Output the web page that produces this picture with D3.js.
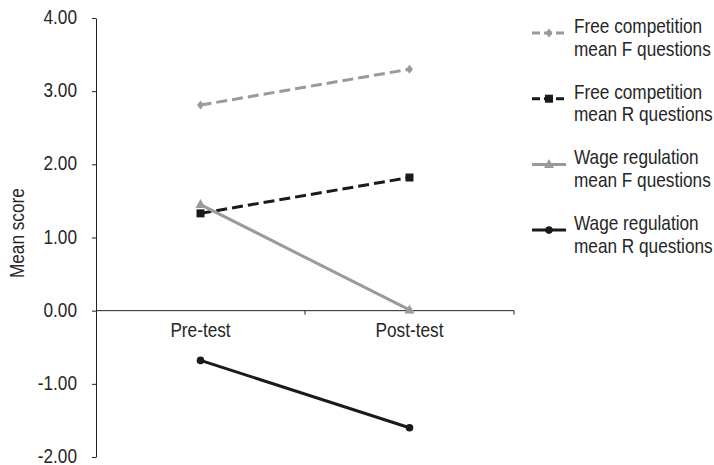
<!DOCTYPE html>
<html>
<head>
<meta charset="utf-8">
<script src="https://cdn.jsdelivr.net/npm/d3@7/dist/d3.min.js"></script>
<style>
html,body{margin:0;padding:0;background:#fff;}
text{font-family:"Liberation Sans Narrow","Arial Narrow","Liberation Sans",Arial,sans-serif;}
</style>
</head>
<body>
<svg id="chart" width="714" height="465"></svg>
<script>
const categories = ["Pre-test", "Post-test"];
const yTicks = [-2, -1, 0, 1, 2, 3, 4];
const freeCompF = [2.81, 3.30];
const freeCompR = [1.33, 1.82];
const wageRegF = [1.45, 0.01];
const wageRegR = [-0.68, -1.60];
const seriesNames = [
  ["Free competition", "mean F questions"],
  ["Free competition", "mean R questions"],
  ["Wage regulation", "mean F questions"],
  ["Wage regulation", "mean R questions"]
];

const series = [
  {values: freeCompF, color: "#9a9a9a", dash: "11,5", marker: "diamond"},
  {values: freeCompR, color: "#1a1a1a", dash: "11,5", marker: "square"},
  {values: wageRegF, color: "#9a9a9a", dash: null, marker: "triangle"},
  {values: wageRegR, color: "#1a1a1a", dash: null, marker: "circle"}
];

const SX = 0.82; // horizontal condensing to mimic a narrow font
const FS = 21;
const TXT = "#262626";

const svg = d3.select("#chart");
const x = d3.scaleBand().domain(categories).range([96, 514]);
const y = d3.scaleLinear().domain([-2, 4]).range([457, 18]);

function narrowText(parent, tx, ty, anchor, str, rotate) {
  return parent.append("text")
    .attr("transform", `translate(${tx},${ty})${rotate ? " rotate(" + rotate + ")" : ""} scale(${SX},1)`)
    .attr("text-anchor", anchor).attr("font-size", FS).attr("fill", TXT).text(str);
}

// Y axis
const fmt = d => d3.format(".2f")(d).replace("\u2212", "-");
const yAxis = svg.append("g").attr("transform", "translate(96,0)")
  .call(d3.axisLeft(y).tickValues(yTicks).tickFormat("").tickSize(4).tickSizeOuter(0));
yAxis.select(".domain").attr("stroke", "#222");
yAxis.selectAll(".tick line").attr("stroke", "#222");
yAxis.selectAll(".tick text").remove();
yTicks.forEach(t => narrowText(svg, 77, y(t) + 6, "end", fmt(t)));

// X axis at zero
const xAxisG = svg.append("g").attr("transform", `translate(0,${y(0)})`);
xAxisG.append("line").attr("x1", 96).attr("x2", 514).attr("stroke", "#222");
const boundaries = [x(categories[1]), x(categories[1]) + x.bandwidth()];
xAxisG.selectAll("line.tk").data(boundaries).join("line").attr("class", "tk")
  .attr("x1", d => d).attr("x2", d => d).attr("y1", 0).attr("y2", 4).attr("stroke", "#222");
categories.forEach(c => narrowText(xAxisG, x(c) + x.bandwidth() / 2, 26, "middle", c));

// Y title
narrowText(svg, 24, y(1.06), "middle", "Mean score", -90);

function drawMarker(g, type, cx, cy, color) {
  if (type === "diamond") {
    g.append("path").attr("d", `M${cx},${cy-4.5}L${cx+3.5},${cy}L${cx},${cy+4.5}L${cx-3.5},${cy}Z`).attr("fill", color);
  } else if (type === "square") {
    g.append("rect").attr("x", cx-4).attr("y", cy-4).attr("width", 8).attr("height", 8).attr("fill", color);
  } else if (type === "triangle") {
    g.append("path").attr("d", `M${cx},${cy-5.5}L${cx+5},${cy+3.5}L${cx-5},${cy+3.5}Z`).attr("fill", color);
  } else {
    g.append("circle").attr("cx", cx).attr("cy", cy).attr("r", 3.8).attr("fill", color);
  }
}

const line = d3.line().x((d, i) => x(categories[i]) + x.bandwidth() / 2).y(d => y(d));
series.forEach(s => {
  const g = svg.append("g");
  g.append("path").attr("d", line(s.values)).attr("fill", "none").attr("stroke", s.color)
    .attr("stroke-width", 3).attr("stroke-dasharray", s.dash);
  s.values.forEach((v, i) => drawMarker(g, s.marker, x(categories[i]) + x.bandwidth() / 2, y(v), s.color));
});

// Legend
series.forEach((s, i) => {
  const ly = 33 + i * 65.7;
  const g = svg.append("g");
  g.append("line").attr("x1", 532).attr("x2", 566).attr("y1", ly).attr("y2", ly)
    .attr("stroke", s.color).attr("stroke-width", 3).attr("stroke-dasharray", s.dash ? "8,4" : null);
  drawMarker(g, s.marker, 549, ly, s.color);
  narrowText(g, 574, ly, "start", seriesNames[i][0]);
  narrowText(g, 574, ly + 22.5, "start", seriesNames[i][1]);
});
</script>
</body>
</html>
